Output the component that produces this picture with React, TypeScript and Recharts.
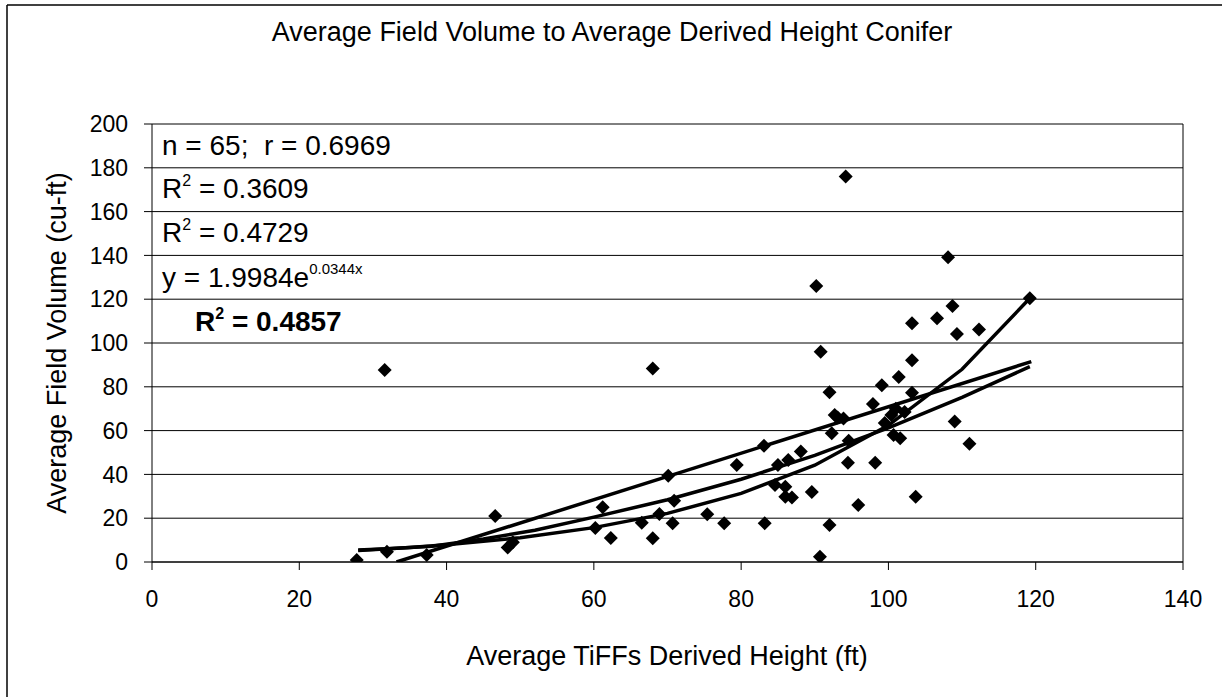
import React from 'react';
import { ScatterChart, Scatter, XAxis, YAxis, CartesianGrid, ReferenceLine } from 'recharts';

const heightFt = [
  27.8, 31.6, 31.9, 37.3, 46.6, 48.3, 49.0, 60.2, 61.2, 62.3,
  66.5, 68.0, 68.9, 68.0, 70.1, 70.9, 70.7, 75.4, 77.7, 79.4,
  83.1, 83.2, 85.0, 86.4, 84.6, 86.0, 86.0, 86.9, 88.1, 89.6,
  90.2, 90.8, 90.7, 92.0, 92.7, 92.3, 92.0, 93.9, 94.5, 94.6,
  94.2, 98.2, 95.9, 97.9, 99.1, 100.4, 100.7, 101.4, 101.6, 103.2,
  103.2, 103.2, 103.7, 106.6, 108.1, 108.7, 109.3, 109.0, 111.0, 112.3,
  119.2, 99.5, 101.0, 102.2, 93.1,
];
const volumeCuFt = [
  0.9, 87.7, 4.7, 3.2, 21.0, 6.6, 9.0, 15.5, 25.0, 11.0,
  17.9, 10.8, 21.9, 88.3, 39.4, 28.0, 17.7, 21.8, 17.7, 44.3,
  53.1, 17.7, 44.3, 46.6, 35.2, 34.4, 29.8, 29.5, 50.4, 32.0,
  126.0, 96.0, 2.4, 77.5, 67.1, 58.8, 16.9, 65.5, 45.3, 55.4,
  176.0, 45.3, 26.0, 72.1, 80.7, 67.1, 58.0, 84.5, 56.5, 77.3,
  92.1, 109.0, 29.8, 111.3, 139.1, 116.9, 104.1, 64.1, 54.0, 106.2,
  120.4, 63.5, 70.0, 68.5, 66.0,
];

// Trend lines
const linearX = [33.2, 119.4];
const linearY = [0, 91.5];
const powerX = [28, 32, 38, 45, 52, 60, 70, 80, 90, 100, 110, 119.2];
const powerY = [5.5, 6.0, 7.2, 10.5, 14.5, 20.5, 28.4, 37.8, 48.7, 61.2, 75.2, 89.2];
const expX = [28, 35, 40, 50, 60, 70, 80, 90, 100, 110, 119.2];
const expY = [5.2, 6.6, 7.9, 11.1, 15.7, 22.2, 31.3, 44.2, 62.4, 88.0, 120.4];

const xTicks = [0, 20, 40, 60, 80, 100, 120, 140];
const yTicks = [0, 20, 40, 60, 80, 100, 120, 140, 160, 180, 200];

const FONT = '"Liberation Sans", Arial, sans-serif';

const points = heightFt.map((x, i) => ({ x, y: volumeCuFt[i] }));
const linearData = linearX.map((x, i) => ({ x, y: linearY[i] }));
const powerData = powerX.map((x, i) => ({ x, y: powerY[i] }));
const expData = expX.map((x, i) => ({ x, y: expY[i] }));

const Diamond = (props: any) => {
  const { cx, cy } = props;
  if (cx == null || cy == null) return <g />;
  const r = 7;
  return (
    <path
      d={`M${cx},${cy - r}L${cx + r},${cy}L${cx},${cy + r}L${cx - r},${cy}Z`}
      fill="#000"
    />
  );
};

const NoShape = () => <g />;

export default function App() {
  return (
    <div style={{ position: 'absolute', left: 0, top: 0, width: 1224, height: 700, background: '#fff' }}>
      <ScatterChart
        width={1224}
        height={700}
        margin={{ top: 124, right: 41, bottom: 78, left: 72 }}
      >
        <CartesianGrid vertical={false} stroke="#000" strokeWidth={1} />
        <XAxis
          type="number"
          dataKey="x"
          domain={[0, 140]}
          ticks={xTicks}
          allowDataOverflow
          height={60}
          tickSize={8}
          tickMargin={21}
          axisLine={{ stroke: '#000' }}
          tickLine={{ stroke: '#000' }}
          tick={{ fill: '#000', fontSize: 23, fontFamily: FONT }}
        />
        <YAxis
          type="number"
          dataKey="y"
          domain={[0, 200]}
          ticks={yTicks}
          allowDataOverflow
          width={80}
          tickSize={8}
          tickMargin={16}
          axisLine={{ stroke: '#000' }}
          tickLine={{ stroke: '#000' }}
          tick={{ fill: '#000', fontSize: 23, fontFamily: FONT }}
        />
        <ReferenceLine x={140} stroke="#000" strokeWidth={1} />
        <Scatter data={points} shape={Diamond} isAnimationActive={false} />
        <Scatter
          data={linearData}
          line={{ stroke: '#000', strokeWidth: 3.5 }}
          lineType="joint"
          shape={NoShape}
          isAnimationActive={false}
        />
        <Scatter
          data={powerData}
          line={{ stroke: '#000', strokeWidth: 3.5 }}
          lineType="joint"
          shape={NoShape}
          isAnimationActive={false}
        />
        <Scatter
          data={expData}
          line={{ stroke: '#000', strokeWidth: 3.5 }}
          lineType="joint"
          shape={NoShape}
          isAnimationActive={false}
        />
      </ScatterChart>
      <svg
        width={1224}
        height={700}
        style={{ position: 'absolute', left: 0, top: 0, pointerEvents: 'none' }}
        fontFamily={FONT}
      >
        <line x1={7} y1={5} x2={7} y2={697} stroke="#000" strokeWidth={1.5} />
        <line x1={7} y1={5} x2={1222} y2={5} stroke="#000" strokeWidth={1.5} />
        <text x={612} y={41} fontSize={27} textAnchor="middle" fill="#000">
          Average Field Volume to Average Derived Height Conifer
        </text>
        <text
          x={0}
          y={0}
          fontSize={27}
          textAnchor="middle"
          fill="#000"
          transform="translate(66,343) rotate(-90)"
        >
          Average Field Volume (cu-ft)
        </text>
        <text x={667} y={665} fontSize={27} textAnchor="middle" fill="#000">
          Average TiFFs Derived Height (ft)
        </text>
        <text x={162} y={155} fontSize={28} fill="#000" xmlSpace="preserve">
          n = 65;  r = 0.6969
        </text>
        <text x={162} y={198} fontSize={28} fill="#000">
          R<tspan dy={-12} fontSize={16}>2</tspan>
          <tspan dy={12}> = 0.3609</tspan>
        </text>
        <text x={162} y={242} fontSize={28} fill="#000">
          R<tspan dy={-12} fontSize={16}>2</tspan>
          <tspan dy={12}> = 0.4729</tspan>
        </text>
        <text x={162} y={287} fontSize={28} fill="#000">
          y = 1.9984e<tspan dy={-13} fontSize={15}>0.0344x</tspan>
        </text>
        <text x={195} y={331} fontSize={28} fontWeight="bold" fill="#000">
          R<tspan dy={-12} fontSize={16}>2</tspan>
          <tspan dy={12}> = 0.4857</tspan>
        </text>
      </svg>
    </div>
  );
}
